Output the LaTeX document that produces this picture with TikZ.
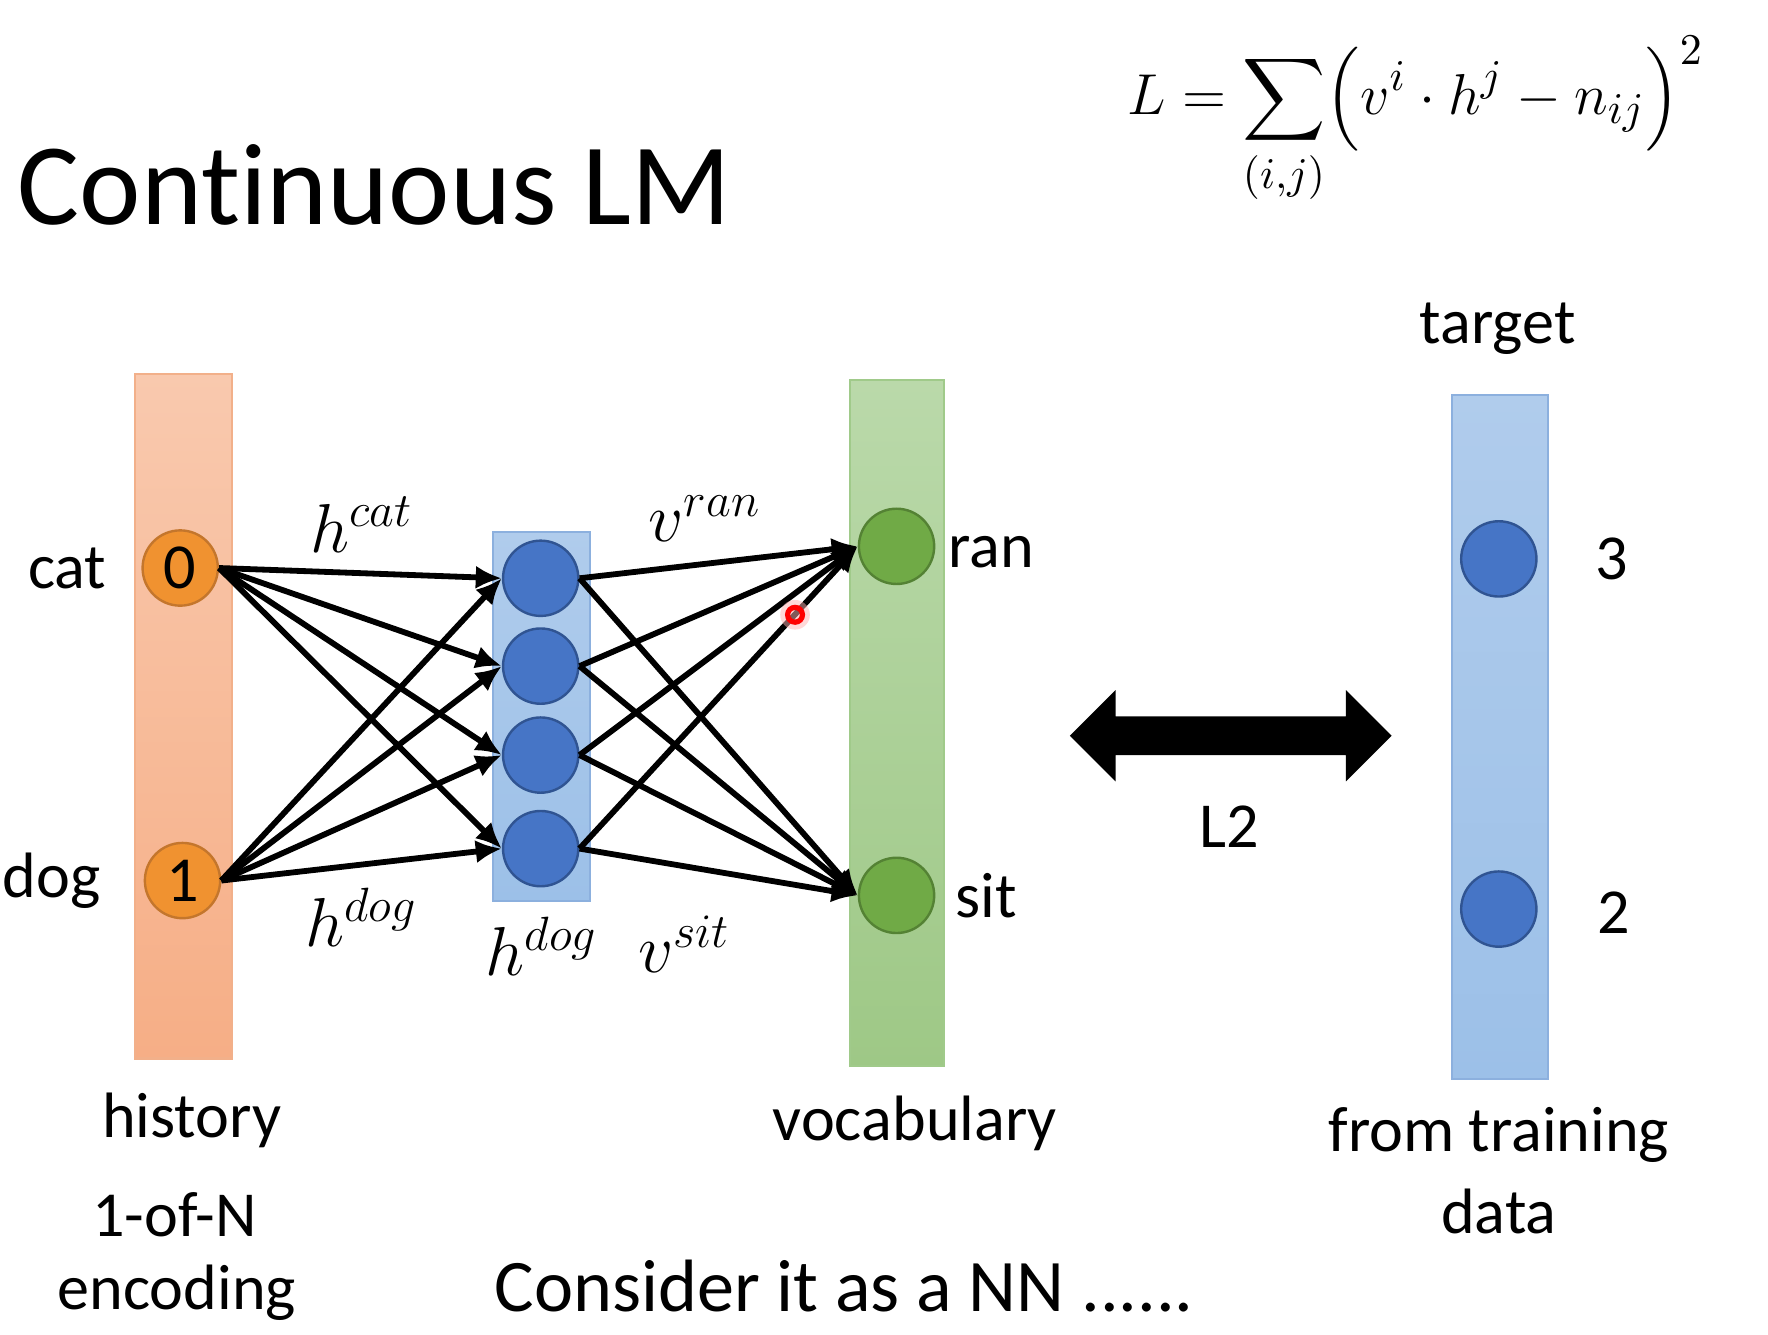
\documentclass[tikz,border=0pt]{standalone}
\usepackage{amsmath}
\usepackage{fontspec}
\setmainfont{Carlito}[Ligatures=CommonOff]
\usepackage{tikz}
\usetikzlibrary{arrows.meta, positioning, calc}

\definecolor{histtop}{RGB}{249,201,174}
\definecolor{histbot}{RGB}{246,174,134}
\definecolor{histline}{RGB}{242,176,138}
\definecolor{onehotfill}{RGB}{240,146,48}
\definecolor{onehotline}{RGB}{196,118,44}
\definecolor{hidtop}{RGB}{176,204,236}
\definecolor{hidbot}{RGB}{156,192,232}
\definecolor{hidline}{RGB}{140,176,222}
\definecolor{unitfill}{RGB}{70,117,198}
\definecolor{unitline}{RGB}{48,84,146}
\definecolor{voctop}{RGB}{186,217,170}
\definecolor{vocbot}{RGB}{158,200,134}
\definecolor{vocline}{RGB}{160,202,138}
\definecolor{vocfill}{RGB}{112,170,70}
\definecolor{vocunitline}{RGB}{84,130,52}

\tikzset{
  unit/.style={circle, draw, line width=0.6pt, minimum size=0.66cm, inner sep=0pt,
    font=\fontsize{16}{19}\selectfont},
  onehot/.style={unit, fill=onehotfill, draw=onehotline},
  hidden/.style={unit, fill=unitfill, draw=unitline},
  vocab/.style={unit, fill=vocfill, draw=vocunitline},
  bar/.style={rectangle, inner sep=0pt, line width=0.5pt},
  weight/.style={-{Latex[length=6.5pt,width=5.8pt]}, line width=1.45pt},
  word/.style={inner sep=0pt, font=\fontsize{16}{19}\selectfont},
  vec/.style={inner sep=0pt, font=\fontsize{17.5}{21}\selectfont},
}

\begin{document}
\begin{tikzpicture}
\useasboundingbox (0,0) rectangle (15.5,11.7);

% title and loss
\node[anchor=base west, inner sep=0pt, font=\fontsize{29}{34}\selectfont] (title) at (0.15,9.73) {Continuous LM};
\node[anchor=base west, inner sep=0pt, font=\fontsize{15}{18}\selectfont] (loss) at (9.88,10.70)
  {$\displaystyle L=\sum_{(i,j)}\Bigl(v^i\cdot h^j-n_{ij}\Bigr)^2$};

% columns
\node[bar, top color=histtop, bottom color=histbot, draw=histline,
  minimum width=0.85cm, minimum height=6cm] (histbar) at (1.605,5.42) {};
\node[bar, top color=hidtop, bottom color=hidbot, draw=hidline,
  minimum width=0.85cm, minimum height=3.24cm] (hidbar) at (4.745,5.42) {};
\node[bar, top color=voctop, bottom color=vocbot, draw=vocline,
  minimum width=0.83cm, minimum height=6.02cm] (vocbar) at (7.865,5.36) {};
\node[bar, top color=hidtop, bottom color=hidbot, draw=hidline,
  minimum width=0.84cm, minimum height=6cm] (tgtbar) at (13.15,5.24) {};

% units
\node[onehot] (cat) at (1.58,6.72) {0};
\node[onehot] (dog) at (1.60,3.98) {1};
\foreach \y [count=\i] in {6.63,5.86,5.08,4.26}
  \node[hidden] (h\i) at (4.74,\y) {};
\node[vocab] (ran) at (7.86,6.91) {};
\node[vocab] (sit) at (7.86,3.85) {};
\node[hidden] (t3) at (13.14,6.80) {};
\node[hidden] (t2) at (13.14,3.73) {};

% weights
\foreach \i in {1,...,4} {
  \draw[weight] (cat.east) -- (h\i.west);
  \draw[weight] (dog.east) -- (h\i.west);
  \draw[weight] (h\i.east) -- (ran.west);
  \draw[weight] (h\i.east) -- (sit.west);
}

% words
\node[word, left=0.30cm of cat] (catw) {cat};
\node[word, left=0.37cm of dog] (dogw) {dog};
\node[word, right=0.11cm of ran, yshift=-0.05cm] (ranw) {ran};
\node[word, right=0.17cm of sit] (sitw) {sit};
\node[word, right=0.50cm of t3] (three) {3};
\node[word, right=0.52cm of t2, yshift=-0.03cm] (two) {2};
\node[word] (tgt) at (13.13,8.82) {target};
\node[word] (hist) at (1.68,1.88) {history};
\node[word] (oneofn) at (1.53,1.05) {1-of-N};
\node[word] (enc) at (1.55,0.37) {encoding};
\node[word] (vocw) at (8.02,1.85) {vocabulary};
\node[word] (from) at (13.14,1.75) {from training};
\node[word] (data) at (13.14,1.08) {data};
\node[word, anchor=base west, font=\fontsize{18.5}{22}\selectfont] (nn) at (4.33,0.20) {Consider it as a NN ......};

% vectors
\node[vec] (hcat) at (3.17,7.10) {$h^{cat}$};
\node[vec] (hdog) at (3.17,3.66) {$h^{dog}$};
\node[vec] (hdogb) at (4.75,3.40) {$h^{dog}$};
\node[vec] (vran) at (6.18,7.15) {$v^{ran}$};
\node[vec] (vsit) at (6.00,3.42) {$v^{sit}$};

% L2 block arrow
\fill (9.38,5.25) -- (9.78,5.65) -- (9.78,5.42) -- (11.80,5.42) -- (11.80,5.65)
  -- (12.20,5.25) -- (11.80,4.85) -- (11.80,5.08) -- (9.78,5.08) -- (9.78,4.85) -- cycle;
\node[word] (ltwo) at (10.78,4.45) {L2};

% pointer
\fill[red!30, opacity=0.5] (6.97,6.31) circle (0.13);
\draw[red, line width=1.3pt] (6.97,6.31) circle (0.065);
\end{tikzpicture}
\end{document}
